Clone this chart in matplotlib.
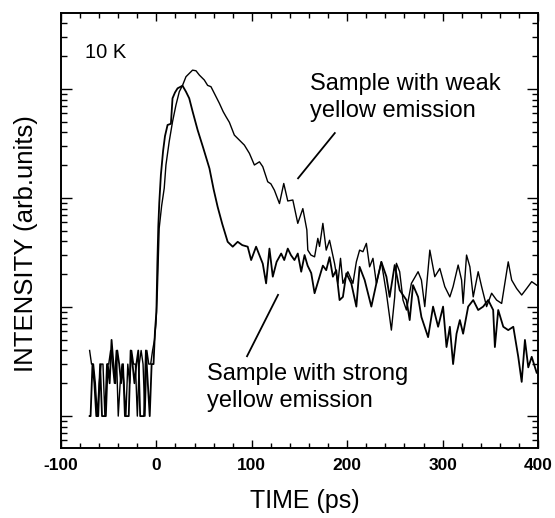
import numpy as np
import matplotlib.pyplot as plt
from matplotlib.ticker import MultipleLocator, LogLocator, NullFormatter

plt.rcParams['font.family'] = ['Liberation Sans', 'DejaVu Sans']
plt.rcParams['axes.unicode_minus'] = False

# sample with strong yellow emission
t_strong = [-70, -69, -67, -65, -63, -61, -59, -57, -55, -53, -51, -49, -47, -45, -43,
            -41, -39, -37, -35, -33, -31, -29, -27, -25, -23, -21, -19, -17, -15, -13,
            -11, -9, -7, -5, -3, -1.5, 0, 1, 2, 3, 4.7, 7, 9, 11.7, 15.2, 16.9, 19.5,
            22.2, 25, 27.4, 31, 34.4, 38, 43.2, 49, 55.6, 60, 64.2, 69, 74.7, 80, 85.2,
            90, 95.7, 99.3, 104.5, 108, 111.5, 115, 118.5, 122, 126, 130.8, 134, 137.7,
            141, 144.7, 148.2, 151.8, 155.3, 158.5, 162.3, 165.8, 171, 174.5, 178, 181.5,
            185, 188.5, 192, 195.5, 199.1, 204.3, 209.6, 213, 218.3, 225.3, 230.6, 235.8,
            241.1, 244.5, 249.8, 255, 262.1, 265.5, 269, 274.3, 277.8, 284.8, 290, 295.3,
            300.5, 304.1, 307.6, 311, 314.6, 318.1, 321.5, 326.8, 332.1, 337.3, 342.5,
            347.8, 353, 354.8, 358.3, 363.6, 368.8, 374.1, 379.3, 382.9, 386.3, 389.8,
            393.4, 398.6]
i_strong = [1, 1, 3, 2, 1, 1, 3, 1, 1, 1, 3, 2, 5, 3, 2,
            4, 3, 2, 3, 1, 1, 1, 4, 3, 2, 3, 4, 1, 1, 1,
            4, 2, 1, 3, 3, 6, 9, 25, 55, 90, 163, 270, 370, 468, 480, 822, 930,
            1015, 1045, 1072, 945, 822, 620, 421, 290, 187, 120, 83, 58, 39.7, 35.8, 39.7,
            37, 35.8, 27, 35.8, 30, 25, 16.5, 34.4, 19, 26, 31, 27, 34.4,
            30, 27, 31, 21.1, 30, 24, 20.5, 13.4, 19, 24, 21.8, 28.7,
            19, 21.8, 11.6, 12.4, 20.4, 16.5, 10.1, 23.4, 17.7, 10.1, 16.5, 26.0,
            19.0, 12.4, 24.3, 14.3, 11.6, 7.6, 15.9, 12.4, 8.1, 5.3, 10.1, 6.6,
            10.1, 4.3, 6.6, 3.0, 5.7, 7.6, 5.7, 10.1, 11.6, 9.4, 10.1,
            11.6, 9.4, 4.3, 9.4, 6.6, 6.15, 6.6, 3.5, 2.06, 5.0, 2.8,
            3.5, 2.5]

# sample with weak yellow emission
t_weak = [-70, -68, -66, -64, -62, -60, -58, -56, -54, -52, -50, -48, -46, -44, -42,
          -40, -38, -36, -34, -32, -30, -28, -26, -24, -22, -20, -18, -16, -14, -12,
          -10, -8, -6, -4, -2, -0.5, 1, 2.9, 5.5, 8.2, 10, 13.4, 16.9, 20.5, 24, 27.4,
          31, 34.5, 37.9, 41.5, 45, 50.2, 53.7, 57.2, 60.7, 66, 70, 73, 76.5, 81.7, 87,
          92.2, 97.5, 102.7, 108, 111.5, 116.7, 120, 123.7, 129, 133.5, 137.7, 143,
          148.2, 153.5, 157.7, 158.7, 162, 165.8, 169.2, 171, 174.5, 178, 181.5, 186.8,
          190.2, 193, 195.5, 200.7, 206, 209.6, 213, 216.5, 220.1, 223.5, 227, 230.6,
          235.8, 241.1, 246.3, 249.8, 251.6, 255, 258.5, 262.1, 267.3, 274.3, 277.8,
          281.3, 286.6, 291.8, 297.1, 302.3, 307.6, 311, 316.3, 319.9, 321.5, 325.1,
          328.6, 332.1, 337.3, 340.9, 346.1, 351.4, 356.6, 361.9, 368.8, 372.4, 377.6,
          382.9, 388.1, 393.4, 398.6]
i_weak = [4, 3, 3, 2, 1, 2, 3, 3, 1, 3, 3, 4, 3, 2, 4,
          1, 2, 3, 2, 1, 3, 2, 4, 3, 3, 1, 3, 4, 3, 1,
          4, 3, 3, 4, 5, 7, 14, 52.7, 85, 123, 201, 329, 501, 713, 945, 1080,
          1297, 1393, 1490, 1470, 1343, 1210, 1080, 1050, 913, 740, 620, 557, 495, 378, 340,
          306, 257, 201, 215, 194, 141, 135, 118, 89, 136, 94, 96,
          58.6, 80, 51, 33.3, 30, 28.9, 42.7, 36, 58.6, 33.3, 41, 25,
          16.5, 28, 16.5, 21.1, 16.5, 26.0, 33.3, 32.2, 38.4, 23.4, 28.0, 16.5,
          26.0, 13.4, 6.15, 12.4, 25.2, 21.1, 11.6, 9.4, 16.5, 21.1, 17.7,
          10.1, 33.3, 19.0, 22.6, 15.4, 12.4, 15.4, 24.3, 17.7, 10.8, 30.0,
          23.4, 12.4, 21.1, 15.4, 10.1, 13.4, 11.6, 10.8, 26.0, 17.7, 14.8,
          12.9, 14.8, 17.1, 15.9]

fig = plt.figure(figsize=(5.55, 5.18), dpi=100)
ax = fig.add_axes([61 / 555, 1 - 448 / 518, 477 / 555, 435 / 518])

ax.plot(t_strong, i_strong, color='black', lw=1.3)
ax.plot(t_weak, i_weak, color='black', lw=1.0)

ax.set_yscale('log')
ax.set_xlim(-100, 400)
ax.set_ylim(0.51, 4980)

ax.xaxis.set_major_locator(MultipleLocator(100))
ax.xaxis.set_minor_locator(MultipleLocator(20))
ax.yaxis.set_major_locator(LogLocator(base=10))
ax.yaxis.set_minor_locator(LogLocator(base=10, subs=np.arange(2, 10)))
ax.yaxis.set_major_formatter(NullFormatter())
ax.yaxis.set_minor_formatter(NullFormatter())

ax.tick_params(axis='both', which='both', direction='in', top=True, right=True,
               color='black', width=1.0)
ax.tick_params(axis='x', which='major', length=6, pad=7, labelsize=12.5)
ax.tick_params(axis='x', which='minor', length=3.5)
ax.tick_params(axis='y', which='major', length=8)
ax.tick_params(axis='y', which='minor', length=4)
for lab in ax.get_xticklabels():
    lab.set_fontweight('bold')
for s in ax.spines.values():
    s.set_linewidth(1.4)

fig.text(304.5 / 555, 1 - 489 / 518, 'TIME (ps)', ha='center', va='top', fontsize=18)
fig.text(26 / 555, 1 - 243.5 / 518, 'INTENSITY (arb.units)', rotation=90,
         ha='center', va='center', fontsize=18.5)

ax.text(0.050, 0.931, '10 K', transform=ax.transAxes, ha='left', va='top', fontsize=14.5)
ax.text(0.522, 0.862, 'Sample with weak\nyellow emission', transform=ax.transAxes,
        ha='left', va='top', fontsize=17, linespacing=1.3)
ax.text(0.306, 0.195, 'Sample with strong\nyellow emission', transform=ax.transAxes,
        ha='left', va='top', fontsize=17, linespacing=1.3)

ax.plot([0.574, 0.497], [0.724, 0.620], transform=ax.transAxes, color='black', lw=1.3)
ax.plot([0.455, 0.390], [0.352, 0.211], transform=ax.transAxes, color='black', lw=1.3)

fig.savefig('out.png', dpi=100)
